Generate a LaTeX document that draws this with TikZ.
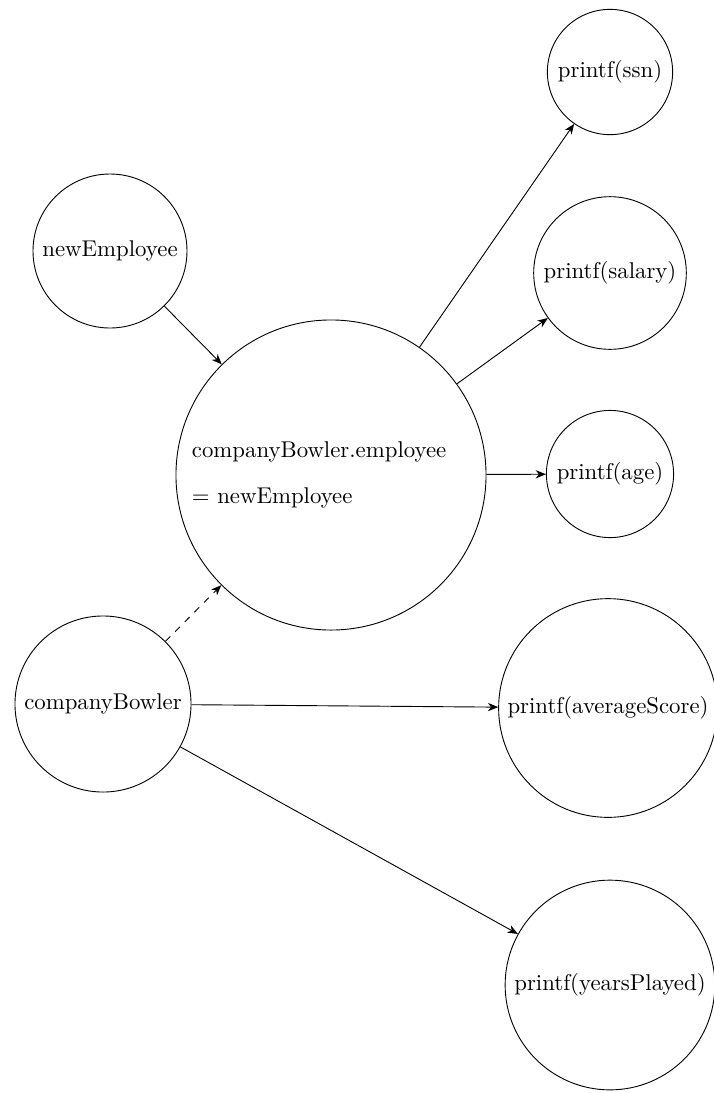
\documentclass[tikz,border=0pt]{standalone}
\usetikzlibrary{arrows.meta}
\begin{document}
\begin{tikzpicture}[x=0.4386pt, y=-0.4386pt,
  state/.style={draw, circle, inner sep=0.3333em},
  link/.style={-{Stealth[length=4.5pt, width=3.6pt, inset=1.4pt]}},
  weak/.style={link, dashed}]
  \useasboundingbox (0,0) rectangle (714,1093);

  % variable and assignment nodes
  \node[state] (newemp) at (110,251) {newEmployee};
  \node[state, minimum size=136pt, text width=122pt, align=left] (assign) at (331,475)
    {companyBowler.employee\\[8.5pt] = newEmployee};
  \node[state] (bowler) at (103,704) {companyBowler};

  % output calls
  \node[state] (ssn) at (610,72) {printf(ssn)};
  \node[state] (salary) at (610,273) {printf(salary)};
  \node[state] (age) at (610,474) {printf(age)};
  \node[state] (avg) at (608,708) {printf(averageScore)};
  \node[state] (years) at (610,985) {printf(yearsPlayed)};

  % connectors
  \draw[link] (newemp) -- (assign);
  \draw[weak] (bowler) -- (assign);
  \draw[link] (assign) -- (ssn);
  \draw[link] (assign) -- (salary);
  \draw[link] (assign) -- (age);
  \draw[link] (bowler) -- (avg);
  \draw[link] (bowler) -- (years);
\end{tikzpicture}
\end{document}
